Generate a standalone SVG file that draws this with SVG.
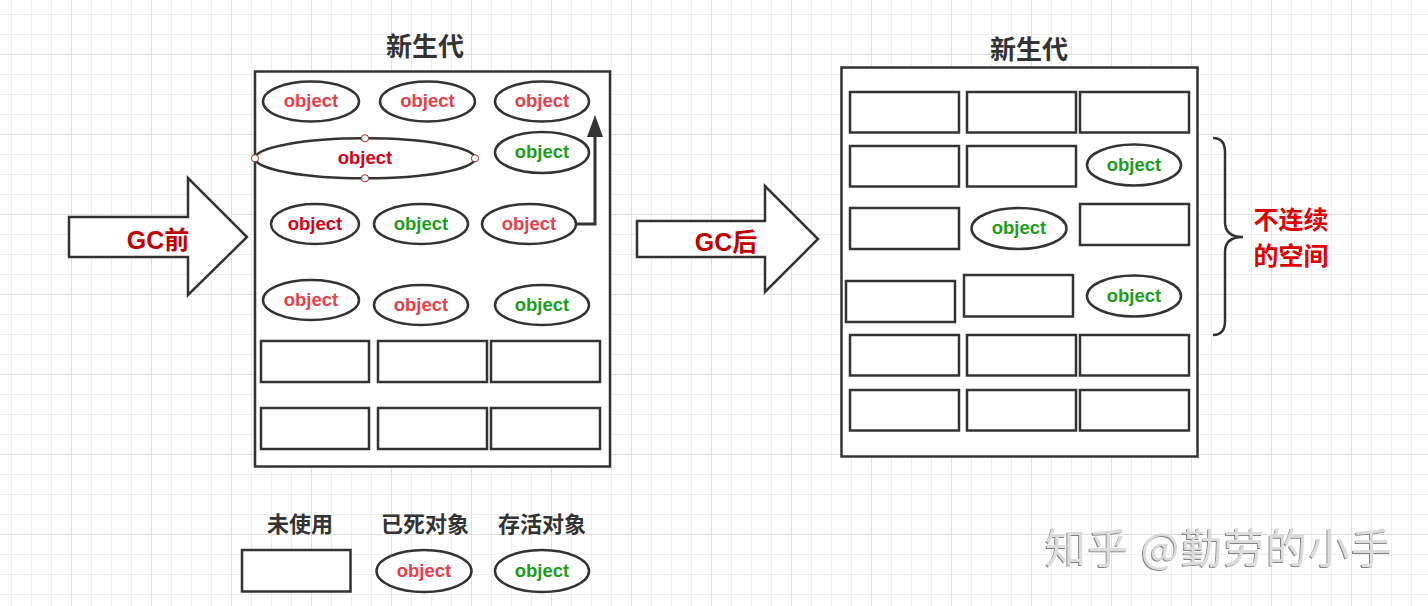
<svg xmlns="http://www.w3.org/2000/svg" width="1428" height="606" viewBox="0 0 1428 606">
<defs>
<pattern id="grid" x="71" y="54" width="80" height="80" patternUnits="userSpaceOnUse">
<path d="M20.5,0V80M40.5,0V80M60.5,0V80M0,20.5H80M0,40.5H80M0,60.5H80" stroke="#eeeeee" stroke-width="1" fill="none"/>
<path d="M0.5,0V80M0,0.5H80" stroke="#dedede" stroke-width="1" fill="none"/>
</pattern>
<marker id="ah" viewBox="0 0 22 16" refX="0" refY="8" markerWidth="22" markerHeight="16" markerUnits="userSpaceOnUse" orient="auto">
<path d="M0,0L22,8L0,16z" fill="#333"/>
</marker>
<filter id="wm" x="-5%" y="-20%" width="110%" height="140%">
<feDropShadow dx="-1" dy="1" stdDeviation="0.6" flood-color="#666" flood-opacity="0.8"/>
</filter>
<style>
.box{fill:#fff;stroke:#333;stroke-width:2.5}
.obj{fill:#fff;stroke:#333;stroke-width:2.5}
.ot{font-family:"Liberation Sans","Noto Sans",sans-serif;font-weight:bold;font-size:18.5px;text-anchor:middle}
.dl{fill:#e6404c}
.dd{fill:#d40019}
.lv{fill:#1c9e1c}
.ttl{font-family:"Noto Sans CJK SC","Noto Sans",sans-serif;font-weight:bold;font-size:26px;fill:#333;text-anchor:middle}
.lg{font-family:"Noto Sans CJK SC","Noto Sans",sans-serif;font-weight:bold;font-size:22px;fill:#333;text-anchor:middle}
.gc{font-family:"Liberation Sans","Noto Sans CJK SC",sans-serif;font-weight:bold;font-size:25px;fill:#c00000;text-anchor:middle}
.big{fill:#fff;stroke:#333;stroke-width:2.5}
.hd{fill:#fff;stroke:#9b2d2d;stroke-width:1}
.rt{font-family:"Noto Sans CJK SC","Noto Sans",sans-serif;font-weight:bold;font-size:25px;fill:#e00000;text-anchor:middle}
</style>
</defs>
<rect width="1428" height="606" fill="#fff"/>
<rect width="1428" height="606" fill="url(#grid)"/>

<g id="arrow-gc-before">
<polygon class="big" points="69,217 188,217 188,178 247,237 188,295 188,257 69,257"/>
<text class="gc" x="158" y="249">GC前</text>
</g>
<g id="arrow-gc-after">
<polygon class="big" points="637,221 765,221 765,186 818,239 765,292 765,257 637,257"/>
<text class="gc" x="726" y="251">GC后</text>
</g>

<g id="left-panel">
<text class="ttl" x="425" y="56">新生代</text>
<rect class="box" x="255" y="71.5" width="355" height="395"/>
</g>
<g id="l-r1c1"><ellipse class="obj" cx="311" cy="101.5" rx="48" ry="20"/><text class="ot dl" x="311" y="107">object</text></g>
<g id="l-r1c2"><ellipse class="obj" cx="427.5" cy="101.5" rx="47.5" ry="20"/><text class="ot dl" x="427.5" y="107">object</text></g>
<g id="l-r1c3"><ellipse class="obj" cx="542" cy="101.5" rx="47" ry="20"/><text class="ot dl" x="542" y="107">object</text></g>
<g id="l-r2-big"><ellipse class="obj" cx="365" cy="158.3" rx="110" ry="20"/><text class="ot dd" x="365" y="164">object</text>
<circle class="hd" cx="255" cy="158.3" r="3.6"/><circle class="hd" cx="475" cy="158.3" r="3.6"/><circle class="hd" cx="365" cy="138.3" r="3.6"/><circle class="hd" cx="365" cy="178.3" r="3.6"/></g>
<g id="l-r2c3"><ellipse class="obj" cx="542" cy="152.5" rx="47" ry="20.5"/><text class="ot lv" x="542" y="158">object</text></g>
<g id="l-r3c1"><ellipse class="obj" cx="315" cy="224" rx="44" ry="20"/><text class="ot dd" x="315" y="229.5">object</text></g>
<g id="l-r3c2"><ellipse class="obj" cx="421" cy="224" rx="47" ry="20"/><text class="ot lv" x="421" y="229.5">object</text></g>
<g id="l-r3c3"><ellipse class="obj" cx="529" cy="224" rx="47" ry="20"/><text class="ot dl" x="529" y="229.5">object</text></g>
<g id="l-r4c1"><ellipse class="obj" cx="311" cy="300" rx="48" ry="20"/><text class="ot dl" x="311" y="306">object</text></g>
<g id="l-r4c2"><ellipse class="obj" cx="421" cy="305" rx="47" ry="20"/><text class="ot dl" x="421" y="310.5">object</text></g>
<g id="l-r4c3"><ellipse class="obj" cx="542" cy="305" rx="47" ry="20"/><text class="ot lv" x="542" y="310.5">object</text></g>
<g id="l-r5"><rect class="box" x="261" y="341" width="108" height="41"/><rect class="box" x="378" y="341" width="109" height="41"/><rect class="box" x="491" y="341" width="109" height="41"/></g>
<g id="l-r6"><rect class="box" x="261" y="408" width="108" height="41"/><rect class="box" x="378" y="408" width="109" height="41"/><rect class="box" x="491" y="408" width="109" height="41"/></g>

<g id="connectors">
<path d="M576,224H595V137" fill="none" stroke="#333" stroke-width="3" marker-end="url(#ah)"/>
</g>

<g id="right-panel">
<text class="ttl" x="1029" y="59">新生代</text>
<rect class="box" x="841.5" y="67.5" width="356" height="389"/>
</g>
<g id="r-r1"><rect class="box" x="850" y="92" width="109" height="40.5"/><rect class="box" x="967" y="92" width="109" height="40.5"/><rect class="box" x="1080" y="92" width="109" height="40.5"/></g>
<g id="r-r2"><rect class="box" x="850" y="146" width="109" height="40.5"/><rect class="box" x="967" y="146" width="109" height="40.5"/></g>
<g id="r-r2c3"><ellipse class="obj" cx="1134" cy="165" rx="47" ry="20.5"/><text class="ot lv" x="1134" y="171">object</text></g>
<g id="r-r3"><rect class="box" x="850" y="208" width="109" height="41"/><rect class="box" x="1080" y="204" width="109" height="41"/></g>
<g id="r-r3c2"><ellipse class="obj" cx="1019" cy="228.5" rx="47.5" ry="20.5"/><text class="ot lv" x="1019" y="234">object</text></g>
<g id="r-r4"><rect class="box" x="846" y="281" width="109" height="41"/><rect class="box" x="964" y="275" width="109" height="41.5"/></g>
<g id="r-r4c3"><ellipse class="obj" cx="1134" cy="296" rx="47" ry="20.5"/><text class="ot lv" x="1134" y="302">object</text></g>
<g id="r-r5"><rect class="box" x="850" y="335" width="109" height="40.5"/><rect class="box" x="967" y="335" width="109" height="40.5"/><rect class="box" x="1080" y="335" width="109" height="40.5"/></g>
<g id="r-r6"><rect class="box" x="850" y="390" width="109" height="40.5"/><rect class="box" x="967" y="390" width="109" height="40.5"/><rect class="box" x="1080" y="390" width="109" height="40.5"/></g>

<g id="brace">
<path d="M1213,138Q1225,138 1225,152V222Q1225,237 1243,237Q1225,237 1225,252V321Q1225,335 1213,335" fill="none" stroke="#333" stroke-width="2.5"/>
<text class="rt" x="1291" y="229">不连续</text>
<text class="rt" x="1291" y="265">的空间</text>
</g>

<g id="legend-unused"><text class="lg" x="300" y="532">未使用</text><rect class="box" x="242" y="550" width="108.5" height="41.5"/></g>
<g id="legend-dead"><text class="lg" x="425" y="532">已死对象</text><ellipse class="obj" cx="424" cy="571" rx="47.5" ry="21"/><text class="ot dl" x="424" y="577">object</text></g>
<g id="legend-live"><text class="lg" x="542" y="532">存活对象</text><ellipse class="obj" cx="542" cy="571" rx="47" ry="21"/><text class="ot lv" x="542" y="577">object</text></g>

<text x="1045" y="563" font-family="Noto Sans CJK SC,Noto Sans,sans-serif" font-size="41" letter-spacing="1.5" fill="#dcdcdc" filter="url(#wm)">知乎 @勤劳的小手</text>
</svg>
